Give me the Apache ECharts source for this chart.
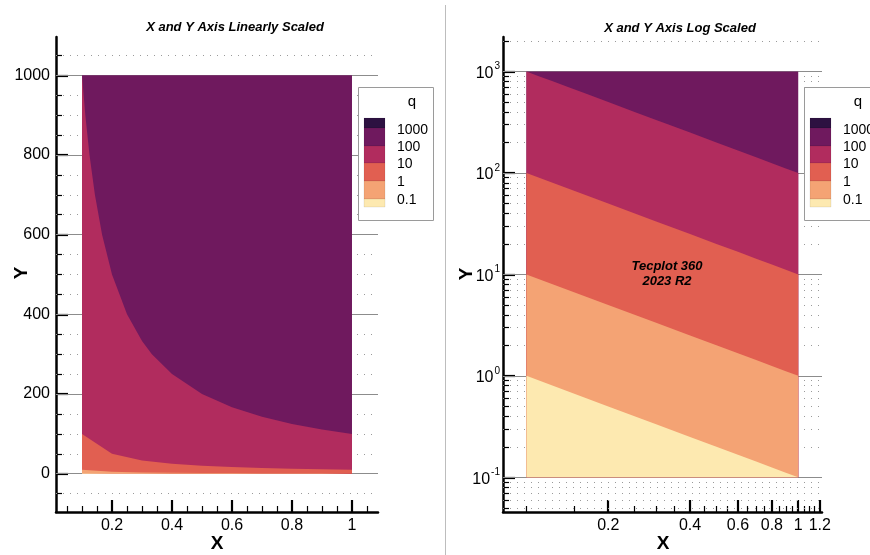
<!DOCTYPE html>
<html><head><meta charset="utf-8">
<script src="https://cdn.jsdelivr.net/npm/echarts@6/dist/echarts.min.js"></script>
<style>html,body{margin:0;padding:0;background:#fff}#c{width:870px;height:555px}</style>
</head><body><div id="c"></div>
<script>
// ---------- data ----------
// contour boundary q = 100 (finer x sampling where the curve bends)
const xQ100 = [0.1, 0.111, 0.125, 0.143, 0.167, 0.2, 0.25, 0.3, 0.333, 0.4, 0.5, 0.6, 0.7, 0.8, 0.9, 1.0];
const yQ100 = [1000, 900, 800, 700, 600, 500, 400, 333, 300, 250, 200, 167, 143, 125, 111, 100];
// contour boundaries q = 10, 1, 0.1 on the x grid
const xQ = [0.1, 0.2, 0.3, 0.4, 0.5, 0.6, 0.7, 0.8, 0.9, 1.0];
const yQ10 = [100, 50, 33.3, 25, 20, 16.7, 14.3, 12.5, 11.1, 10];
const yQ1 = [10, 5, 3.33, 2.5, 2, 1.67, 1.43, 1.25, 1.11, 1];
const yQ01 = [1, 0.5, 0.333, 0.25, 0.2, 0.167, 0.143, 0.125, 0.111, 0.1];
// top of the domain
const xTop = [0.1, 1.0];
const yTop = [1000, 1000];
const yBottom = 0.1;
// legend levels
const levels = ['1000', '100', '10', '1', '0.1'];
// tick labels
const linXTicks = [0.2, 0.4, 0.6, 0.8, 1];
const linYTicks = [0, 200, 400, 600, 800, 1000];
const logXTicks = [0.2, 0.4, 0.6, 0.8, 1, 1.2];
const logYTicks = [0.1, 1, 10, 100, 1000];

// ---------- styles ----------
const FONT = '"Liberation Sans", Arial, Helvetica, sans-serif';
const cTop = '#2d1141', cPurple = '#6f195e', cMagenta = '#b12c5e', cRed = '#e15f51', cOrange = '#f4a374', cYellow = '#fde9b0';
const layers = [
  {x: xTop, y: yTop, color: cPurple},
  {x: xQ100, y: yQ100, color: cMagenta},
  {x: xQ, y: yQ10, color: cRed},
  {x: xQ, y: yQ1, color: cOrange},
  {x: xQ, y: yQ01, color: cYellow}
];

// axis ranges
const L = {xmin: 0.0133, xmax: 1.0867, ymin: -96, ymax: 1096};
const R = {xmin: 0.082, xmax: 1.223, ymin: 0.0455, ymax: 2190};
const lg = Math.log10;

// minor ticks
const linXMinor = []; for (let i = 1; i <= 21; i++) { const v = +(i * 0.05).toFixed(2); if (Math.abs(v * 5 - Math.round(v * 5)) > 1e-6) linXMinor.push(v); }
const linYMinor = []; for (let v = -50; v <= 1050; v += 50) { if (v % 200 !== 0) linYMinor.push(v); }
const logXMinor = []; for (let i = 2; i <= 23; i++) { const v = +(i * 0.05).toFixed(2); if (Math.abs(v * 5 - Math.round(v * 5)) > 1e-6 || v === 0.1) logXMinor.push(v); }
const logYMinor = []; for (let k = -2; k <= 3; k++) for (let m = 2; m <= 9; m++) { const v = +(m * Math.pow(10, k)).toPrecision(3); if (v > R.ymin && v < R.ymax) logYMinor.push(v); }

const gridLineMajor = {color: '#8c8c8c', width: 1, type: 'solid'};
const gridLineMinor = {color: '#9a9a9a', width: 1, type: [1, 6]};

function markLines(major, minor) {
  return {
    silent: true, symbol: ['none', 'none'], label: {show: false}, z: 1, animation: false,
    emphasis: {disabled: true},
    data: minor.map(v => ({yAxis: v, lineStyle: gridLineMinor})).concat(major.map(v => ({yAxis: v, lineStyle: gridLineMajor})))
  };
}

function makeSeries(xi, yi, major, minor) {
  return layers.map((ly, i) => {
    const s = {
      type: 'line', xAxisIndex: xi, yAxisIndex: yi, z: 2, silent: true, animation: false,
      symbol: 'none', showSymbol: false, smooth: false,
      lineStyle: {width: 0, opacity: 0},
      areaStyle: {color: ly.color, opacity: 1, origin: yBottom},
      data: ly.x.map((x, j) => [x, ly.y[j]])
    };
    if (i === 0) s.markLine = markLines(major, minor);
    return s;
  });
}

const axLine = {show: true, onZero: false, lineStyle: {color: '#000', width: 2.5}};
const lblStyle = {fontSize: 16, color: '#000', fontFamily: FONT};

function majorAxis(grid, pos, min, max, ticks, fmt, margin, rich) {
  return {
    type: 'value', gridIndex: grid, position: pos, min: min, max: max,
    axisLine: axLine,
    axisTick: {show: true, inside: true, length: 12, lineStyle: {color: '#000', width: 2.2}, customValues: ticks},
    axisLabel: Object.assign({show: true, customValues: ticks, margin: margin, formatter: fmt, rich: rich}, lblStyle),
    splitLine: {show: false}, minorTick: {show: false}
  };
}
function minorAxis(grid, pos, min, max, ticks) {
  return {
    type: 'value', gridIndex: grid, position: pos, min: min, max: max,
    axisLine: {show: false, onZero: false},
    axisTick: {show: true, inside: true, length: 6, lineStyle: {color: '#000', width: 1.2}, customValues: ticks},
    axisLabel: {show: false}, splitLine: {show: false}
  };
}

const supRich = {
  b: {fontSize: 16, color: '#000', fontFamily: FONT, lineHeight: 20, verticalAlign: 'bottom'},
  s: {fontSize: 10, color: '#000', fontFamily: FONT, lineHeight: 20, verticalAlign: 'top', padding: [0, 0, 0, 1]}
};

const option = {
  animation: false,
  backgroundColor: '#fff',
  grid: [
    {left: 56, top: 37, width: 322, height: 475, containLabel: false, outerBoundsMode: 'none'},
    {left: 503, top: 37, width: 319, height: 475, containLabel: false, outerBoundsMode: 'none'}
  ],
  xAxis: [
    majorAxis(0, 'bottom', L.xmin, L.xmax, linXTicks, v => String(+v.toFixed(2)), 6),
    minorAxis(0, 'bottom', L.xmin, L.xmax, linXMinor),
    {type: 'log', logBase: 10, gridIndex: 1, min: R.xmin, max: R.xmax, show: false, axisLine: {onZero: false}},
    majorAxis(1, 'bottom', lg(R.xmin), lg(R.xmax), logXTicks.map(lg), v => String(Math.round(Math.pow(10, v) * 10) / 10), 6),
    minorAxis(1, 'bottom', lg(R.xmin), lg(R.xmax), logXMinor.map(lg))
  ],
  yAxis: [
    majorAxis(0, 'left', L.ymin, L.ymax, linYTicks, v => String(Math.round(v)), 6),
    minorAxis(0, 'left', L.ymin, L.ymax, linYMinor),
    {type: 'log', logBase: 10, gridIndex: 1, min: R.ymin, max: R.ymax, show: false, axisLine: {onZero: false}},
    majorAxis(1, 'left', lg(R.ymin), lg(R.ymax), logYTicks.map(lg), v => '{b|10}{s|' + Math.round(v) + '}', 3, supRich),
    minorAxis(1, 'left', lg(R.ymin), lg(R.ymax), logYMinor.map(lg))
  ],
  series: makeSeries(0, 0, linYTicks, linYMinor).concat(makeSeries(2, 2, logYTicks, logYMinor)),
  graphic: buildGraphics()
};

function legend(x0, w) {
  const els = [];
  els.push({type: 'rect', z: 100, shape: {x: x0 + 0.5, y: 87.5, width: w, height: 133}, style: {fill: '#fff', stroke: '#9a9a9a', lineWidth: 1}});
  els.push({type: 'text', z: 101, x: x0 + 54, y: 102, style: {text: 'q', font: '15px ' + FONT, fill: '#000', textAlign: 'center', textVerticalAlign: 'middle'}});
  const sw = [[118, 128, cTop], [128, 146, cPurple], [146, 163, cMagenta], [163, 181, cRed], [181, 199, cOrange], [199, 207, cYellow]];
  sw.forEach(s => els.push({type: 'rect', z: 101, shape: {x: x0 + 6, y: s[0], width: 21, height: s[1] - s[0]}, style: {fill: s[2], stroke: 'rgba(0,0,0,0.15)', lineWidth: 0.5}}));
  const ly = [130, 147, 164, 182, 200];
  levels.forEach((t, i) => els.push({type: 'text', z: 101, x: x0 + 39, y: ly[i], style: {text: t, font: '14px ' + FONT, fill: '#000', textAlign: 'left', textVerticalAlign: 'middle'}}));
  return els;
}

function buildGraphics() {
  const bi = 'italic bold 13px ' + FONT;
  const els = [
    {type: 'line', z: 100, shape: {x1: 445.5, y1: 5, x2: 445.5, y2: 555}, style: {stroke: '#bdbdbd', lineWidth: 1}},
    {type: 'text', z: 100, x: 235, y: 27, style: {text: 'X and Y Axis Linearly Scaled', font: bi, fill: '#000', textAlign: 'center', textVerticalAlign: 'middle'}},
    {type: 'text', z: 100, x: 680, y: 28, style: {text: 'X and Y Axis Log Scaled', font: bi, fill: '#000', textAlign: 'center', textVerticalAlign: 'middle'}},
    {type: 'text', z: 100, x: 667, y: 266, style: {text: 'Tecplot 360', font: bi, fill: '#000', textAlign: 'center', textVerticalAlign: 'middle'}},
    {type: 'text', z: 100, x: 667, y: 281, style: {text: '2023 R2', font: bi, fill: '#000', textAlign: 'center', textVerticalAlign: 'middle'}},
    {type: 'text', z: 100, x: 217, y: 544, style: {text: 'X', font: 'bold 19px ' + FONT, fill: '#000', textAlign: 'center', textVerticalAlign: 'middle'}},
    {type: 'text', z: 100, x: 663, y: 544, style: {text: 'X', font: 'bold 19px ' + FONT, fill: '#000', textAlign: 'center', textVerticalAlign: 'middle'}},
    {type: 'text', z: 100, x: 22, y: 273, rotation: Math.PI / 2, style: {text: 'Y', font: 'bold 19px ' + FONT, fill: '#000', textAlign: 'center', textVerticalAlign: 'middle'}},
    {type: 'text', z: 100, x: 467, y: 274, rotation: Math.PI / 2, style: {text: 'Y', font: 'bold 19px ' + FONT, fill: '#000', textAlign: 'center', textVerticalAlign: 'middle'}}
  ];
  return els.concat(legend(358, 75), legend(804, 80));
}

const chart = echarts.init(document.getElementById('c'), null, {renderer: 'canvas'});
chart.setOption(option);
</script>
</body></html>
